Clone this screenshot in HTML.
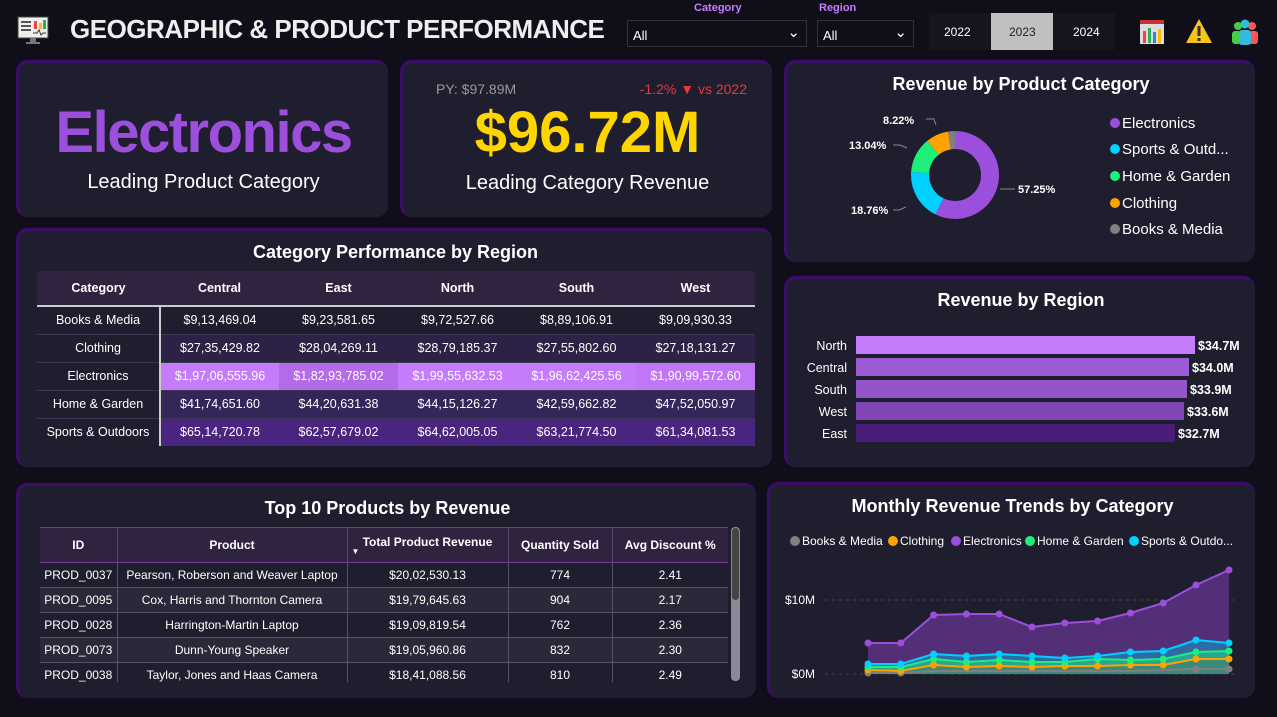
<!DOCTYPE html>
<html><head><meta charset="utf-8"><style>
*{margin:0;padding:0;box-sizing:border-box}
body{width:1277px;height:717px;background:#0f0e19;font-family:"Liberation Sans",sans-serif;color:#fff;position:relative;overflow:hidden}
.a{position:absolute}
.card{position:absolute;background:#1f1e2e;border-radius:12px;border-top:3px solid #3b0f66;border-left:3px solid #3b0f66;box-shadow:0 0 2px #2a0a4a}
.t{position:absolute;left:0;right:0;text-align:center;font-weight:bold;font-size:19px}
table{border-collapse:collapse;position:absolute;font-size:12.5px}
td,th{text-align:center;white-space:nowrap;overflow:hidden}
</style></head><body>
<!-- header -->
<svg class="a" style="left:17px;top:15px" width="32" height="32" viewBox="0 0 32 32"><rect x="1" y="2" width="30" height="21" fill="#eee" stroke="#444"/><rect x="4" y="6" width="10" height="2" fill="#555"/><rect x="4" y="10" width="10" height="2" fill="#555"/><rect x="4" y="14" width="10" height="2" fill="#555"/><rect x="17" y="6" width="3" height="8" fill="#e44"/><rect x="22" y="8" width="3" height="6" fill="#fb0"/><rect x="26" y="5" width="3" height="9" fill="#3a5"/><polyline points="16,18 20,18 22,15 24,20 26,18 29,18" stroke="#333" fill="none"/><rect x="13" y="23" width="6" height="4" fill="#777"/><rect x="9" y="27" width="14" height="2" fill="#777"/></svg>
<div class="a" style="left:70px;top:14px;font-size:26px;font-weight:bold;color:#eee;letter-spacing:-0.5px">GEOGRAPHIC &amp; PRODUCT PERFORMANCE</div>
<div class="a" style="left:694px;top:2px;font-size:11px;font-weight:bold;color:#c77dff">Category</div>
<div class="a" style="left:819px;top:2px;font-size:11px;font-weight:bold;color:#c77dff">Region</div>
<div class="a" style="left:627px;top:20px;width:180px;height:27px;border:1px solid #333;background:#0f0e19;font-size:13px;padding:7px 0 0 5px">All<span class="a" style="right:6px;top:2px;font-size:15px">&#8964;</span></div>
<div class="a" style="left:817px;top:20px;width:97px;height:27px;border:1px solid #333;background:#0f0e19;font-size:13px;padding:7px 0 0 5px">All<span class="a" style="right:6px;top:2px;font-size:15px">&#8964;</span></div>
<div class="a" style="left:929px;top:13px;width:186px;height:37px;background:#16151f"></div>
<div class="a" style="left:991px;top:13px;width:62px;height:37px;background:#c0c0c0"></div>
<div class="a" style="left:944px;top:25px;font-size:12px">2022</div>
<div class="a" style="left:1009px;top:25px;font-size:12px;color:#222">2023</div>
<div class="a" style="left:1073px;top:25px;font-size:12px">2024</div>
<svg class="a" style="left:1139px;top:19px" width="26" height="26"><rect x="1" y="1" width="24" height="24" fill="#ddd"/><rect x="1" y="1" width="24" height="4" fill="#c33"/><rect x="4" y="12" width="3" height="12" fill="#e44"/><rect x="9" y="9" width="3" height="15" fill="#3a5"/><rect x="14" y="13" width="3" height="11" fill="#38c"/><rect x="19" y="10" width="3" height="14" fill="#fb0"/></svg>
<svg class="a" style="left:1185px;top:18px" width="28" height="26"><polygon points="14,1 27,25 1,25" fill="#f5c518"/><rect x="12.5" y="8" width="3" height="10" fill="#333"/><rect x="12.5" y="20" width="3" height="3" fill="#333"/></svg>
<svg class="a" style="left:1230px;top:19px" width="30" height="26"><circle cx="8" cy="7" r="4" fill="#4c4"/><circle cx="22" cy="7" r="4" fill="#f55"/><circle cx="15" cy="5" r="4.5" fill="#3bd"/><rect x="2" y="12" width="9" height="13" rx="3" fill="#4c4"/><rect x="19" y="12" width="9" height="13" rx="3" fill="#f55"/><rect x="9" y="11" width="12" height="15" rx="3" fill="#3bd"/></svg>

<!-- KPI cards -->
<div class="card" style="left:16px;top:60px;width:372px;height:157px">
<div class="t" style="top:36px;font-size:58px;color:#9c4fdc;letter-spacing:-1.5px">Electronics</div>
<div class="t" style="top:108px;font-size:20px;font-weight:normal">Leading Product Category</div></div>
<div class="card" style="left:400px;top:60px;width:372px;height:157px">
<div class="a" style="left:33px;top:18px;font-size:14px;color:#999">PY: $97.89M</div>
<div class="a" style="right:25px;top:18px;font-size:14px;color:#e8383c">-1.2% &#9660; vs 2022</div>
<div class="t" style="top:36px;font-size:58px;color:#ffd500">$96.72M</div>
<div class="t" style="top:109px;font-size:20px;font-weight:normal">Leading Category Revenue</div></div>

<!-- donut card -->
<div class="card" style="left:784px;top:60px;width:471px;height:202px">
<div class="t" style="top:11px;font-size:18px">Revenue by Product Category</div></div>
<svg class="a" style="left:784px;top:60px" width="471" height="202">
<g transform="translate(171,115)" fill="none" stroke-width="18">
<circle r="35" stroke="#9c4fdc" stroke-dasharray="125.9 220" transform="rotate(-90)"/>
<circle r="35" stroke="#00d0ff" stroke-dasharray="0 125.9 41.26 220" transform="rotate(-90)"/>
<circle r="35" stroke="#1df07a" stroke-dasharray="0 167.16 28.68 220" transform="rotate(-90)"/>
<circle r="35" stroke="#ffa200" stroke-dasharray="0 195.84 18.08 220" transform="rotate(-90)"/>
<circle r="35" stroke="#808080" stroke-dasharray="0 213.92 6.0 220" transform="rotate(-90)"/>
</g>
<g stroke="#888" fill="none"><polyline points="216,129 224,129 231,129"/><polyline points="122,147 115,150 109,150"/><polyline points="123,88 116,85 109,85"/><polyline points="152,65 150,59 142,59"/></g>
<g font-size="11" font-weight="bold" fill="#fff"><text x="234" y="133">57.25%</text><text x="67" y="154">18.76%</text><text x="65" y="89">13.04%</text><text x="99" y="64">8.22%</text></g>
<g font-size="15" fill="#fff"><circle cx="331" cy="63" r="5" fill="#9c4fdc"/><text x="338" y="68">Electronics</text>
<circle cx="331" cy="89" r="5" fill="#00d0ff"/><text x="338" y="94">Sports &amp; Outd...</text>
<circle cx="331" cy="116" r="5" fill="#1df07a"/><text x="338" y="121">Home &amp; Garden</text>
<circle cx="331" cy="143" r="5" fill="#ffa200"/><text x="338" y="148">Clothing</text>
<circle cx="331" cy="169" r="5" fill="#808080"/><text x="338" y="174">Books &amp; Media</text></g>
</svg>

<!-- category table -->
<div class="card" style="left:16px;top:228px;width:756px;height:239px">
<div class="t" style="top:11px;font-size:18px">Category Performance by Region</div></div>
<table style="left:37px;top:271px;width:718px">
<colgroup><col style="width:123px"><col style="width:119px"><col style="width:119px"><col style="width:119px"><col style="width:119px"><col style="width:119px"></colgroup>
<tr style="height:35px;background:#2f2340;font-weight:bold;border-bottom:2px solid #ccc"><th>Category</th><th>Central</th><th>East</th><th>North</th><th>South</th><th>West</th></tr>
<tr style="height:28px;background:#1f1e2e;border-bottom:1px solid #3a3850"><td style="border-right:2px solid #ccc">Books &amp; Media</td><td>$9,13,469.04</td><td>$9,23,581.65</td><td>$9,72,527.66</td><td>$8,89,106.91</td><td>$9,09,930.33</td></tr>
<tr style="height:28px;background:#2d2245;border-bottom:1px solid #3a3850"><td style="background:#1f1e2e;border-right:2px solid #ccc">Clothing</td><td>$27,35,429.82</td><td>$28,04,269.11</td><td>$28,79,185.37</td><td>$27,55,802.60</td><td>$27,18,131.27</td></tr>
<tr style="height:28px;background:#c47cfc;border-bottom:1px solid #3a3850"><td style="background:#1f1e2e;border-right:2px solid #ccc">Electronics</td><td>$1,97,06,555.96</td><td style="background:#b36be8">$1,82,93,785.02</td><td>$1,99,55,632.53</td><td>$1,96,62,425.56</td><td style="background:#bf77f6">$1,90,99,572.60</td></tr>
<tr style="height:28px;background:#35265a;border-bottom:1px solid #3a3850"><td style="background:#1f1e2e;border-right:2px solid #ccc">Home &amp; Garden</td><td>$41,74,651.60</td><td>$44,20,631.38</td><td>$44,15,126.27</td><td>$42,59,662.82</td><td>$47,52,050.97</td></tr>
<tr style="height:28px;background:#4a2580"><td style="background:#1f1e2e;border-right:2px solid #ccc">Sports &amp; Outdoors</td><td>$65,14,720.78</td><td>$62,57,679.02</td><td>$64,62,005.05</td><td>$63,21,774.50</td><td>$61,34,081.53</td></tr>
</table>

<!-- region bars -->
<div class="card" style="left:784px;top:276px;width:471px;height:191px">
<div class="t" style="top:11px;font-size:18px">Revenue by Region</div></div>
<svg class="a" style="left:784px;top:276px" width="471" height="191" font-size="12.5">
<g fill="#fff" text-anchor="end"><text x="63" y="74">North</text><text x="63" y="96">Central</text><text x="63" y="118">South</text><text x="63" y="140">West</text><text x="63" y="162">East</text></g>
<rect x="72" y="60" width="339" height="18" fill="#c47cfc"/><rect x="72" y="82" width="333" height="18" fill="#9b5bd4"/><rect x="72" y="104" width="331" height="18" fill="#9355c8"/><rect x="72" y="126" width="328" height="18" fill="#7f47b5"/><rect x="72" y="148" width="319" height="18" fill="#4a1d78"/>
<g fill="#fff" font-weight="bold"><text x="414" y="74">$34.7M</text><text x="408" y="96">$34.0M</text><text x="406" y="118">$33.9M</text><text x="403" y="140">$33.6M</text><text x="394" y="162">$32.7M</text></g>
</svg>

<!-- products table -->
<div class="card" style="left:16px;top:483px;width:740px;height:215px">
<div class="t" style="top:12px;font-size:18px">Top 10 Products by Revenue</div></div>
<div class="a" style="left:40px;top:527px;width:688px;height:155px;overflow:hidden">
<table style="left:0;top:0;width:688px;font-size:12px">
<colgroup><col style="width:77px"><col style="width:230px"><col style="width:161px"><col style="width:104px"><col style="width:116px"></colgroup>
<tr style="height:35px;background:#2f2340;font-weight:bold;border-top:1px solid #7a3a9a;border-bottom:1px solid #7a3a9a"><th style="border-right:1px solid #5a4a6a">ID</th><th style="border-right:1px solid #5a4a6a">Product</th><th style="border-right:1px solid #5a4a6a">Total Product Revenue<div style="font-size:8px;text-align:left;padding-left:4px;line-height:6px">&#9660;</div></th><th style="border-right:1px solid #5a4a6a">Quantity Sold</th><th>Avg Discount %</th></tr>
<tr style="height:25px;background:#1f1e2e;border-bottom:1px solid #55536a"><td style="border-right:1px solid #55536a">PROD_0037</td><td style="border-right:1px solid #55536a">Pearson, Roberson and Weaver Laptop</td><td style="border-right:1px solid #55536a">$20,02,530.13</td><td style="border-right:1px solid #55536a">774</td><td>2.41</td></tr>
<tr style="height:25px;background:#2a2939;border-bottom:1px solid #55536a"><td style="border-right:1px solid #55536a">PROD_0095</td><td style="border-right:1px solid #55536a">Cox, Harris and Thornton Camera</td><td style="border-right:1px solid #55536a">$19,79,645.63</td><td style="border-right:1px solid #55536a">904</td><td>2.17</td></tr>
<tr style="height:25px;background:#1f1e2e;border-bottom:1px solid #55536a"><td style="border-right:1px solid #55536a">PROD_0028</td><td style="border-right:1px solid #55536a">Harrington-Martin Laptop</td><td style="border-right:1px solid #55536a">$19,09,819.54</td><td style="border-right:1px solid #55536a">762</td><td>2.36</td></tr>
<tr style="height:25px;background:#2a2939;border-bottom:1px solid #55536a"><td style="border-right:1px solid #55536a">PROD_0073</td><td style="border-right:1px solid #55536a">Dunn-Young Speaker</td><td style="border-right:1px solid #55536a">$19,05,960.86</td><td style="border-right:1px solid #55536a">832</td><td>2.30</td></tr>
<tr style="height:25px;background:#1f1e2e"><td style="border-right:1px solid #55536a">PROD_0038</td><td style="border-right:1px solid #55536a">Taylor, Jones and Haas Camera</td><td style="border-right:1px solid #55536a">$18,41,088.56</td><td style="border-right:1px solid #55536a">810</td><td>2.49</td></tr>
</table></div>
<div class="a" style="left:731px;top:527px;width:9px;height:154px;border-radius:4px;background:#8a8a96"></div>
<div class="a" style="left:732px;top:528px;width:7px;height:72px;border-radius:4px;background:#444"></div>

<!-- trend chart -->
<div class="card" style="left:767px;top:482px;width:488px;height:216px">
<div class="t" style="top:11px;font-size:18px">Monthly Revenue Trends by Category</div></div>
<svg class="a" style="left:0;top:0" width="1277" height="717">
<g font-size="12" fill="#fff"><circle cx="795" cy="541" r="5" fill="#808080"/><text x="802" y="545">Books &amp; Media</text>
<circle cx="893" cy="541" r="5" fill="#ffa200"/><text x="900" y="545">Clothing</text>
<circle cx="956" cy="541" r="5" fill="#9c4fdc"/><text x="963" y="545">Electronics</text>
<circle cx="1030" cy="541" r="5" fill="#1df07a"/><text x="1037" y="545">Home &amp; Garden</text>
<circle cx="1134" cy="541" r="5" fill="#00d0ff"/><text x="1141" y="545">Sports &amp; Outdo...</text>
<text x="815" y="604" text-anchor="end">$10M</text><text x="815" y="678" text-anchor="end">$0M</text></g>
<g stroke="#444" stroke-dasharray="3 4"><line x1="825" y1="600" x2="1235" y2="600"/><line x1="825" y1="674" x2="1235" y2="674"/></g>
<polygon fill="#532f78" points="868,643 900.8,643 933.6,615 966.4,614 999.2,614 1032,627 1064.8,623 1097.6,621 1130.4,613 1163.2,603 1196,585 1229,570 1229,674 868,674"/>
<polygon fill="#2f6aa5" points="868,664 900.8,664 933.6,654 966.4,656 999.2,654 1032,656 1064.8,658 1097.6,656 1130.4,652 1163.2,651 1196,640 1229,643 1229,674 868,674"/>
<polygon fill="#2aa594" points="868,667 900.8,667 933.6,659 966.4,662 999.2,660 1032,662 1064.8,662 1097.6,659 1130.4,660 1163.2,659 1196,652 1229,651 1229,674 868,674"/>
<polygon fill="#3a8a7a" points="868,670 900.8,671 933.6,665 966.4,667 999.2,666 1032,667 1064.8,666 1097.6,666 1130.4,665 1163.2,665 1196,659 1229,659 1229,674 868,674"/>
<g fill="none" stroke-width="2">
<polyline stroke="#808080" points="868,673 900.8,673 933.6,671 966.4,671 999.2,671 1032,671 1064.8,671 1097.6,671 1130.4,671 1163.2,670 1196,669 1229,669"/>
<polyline stroke="#ffa200" points="868,670 900.8,671 933.6,665 966.4,667 999.2,666 1032,667 1064.8,666 1097.6,666 1130.4,665 1163.2,665 1196,659 1229,659"/>
<polyline stroke="#1df07a" points="868,667 900.8,667 933.6,659 966.4,662 999.2,660 1032,662 1064.8,662 1097.6,659 1130.4,660 1163.2,659 1196,652 1229,651"/>
<polyline stroke="#00d0ff" points="868,664 900.8,664 933.6,654 966.4,656 999.2,654 1032,656 1064.8,658 1097.6,656 1130.4,652 1163.2,651 1196,640 1229,643"/>
<polyline stroke="#9c4fdc" points="868,643 900.8,643 933.6,615 966.4,614 999.2,614 1032,627 1064.8,623 1097.6,621 1130.4,613 1163.2,603 1196,585 1229,570"/>
</g>
<g fill="#808080"><circle cx="868" cy="673" r="3.5"/><circle cx="900.8" cy="673" r="3.5"/><circle cx="1196" cy="669" r="3.5"/><circle cx="1229" cy="669" r="3.5"/></g>
<g fill="#ffa200"><circle cx="868" cy="670" r="3.5"/><circle cx="900.8" cy="671" r="3.5"/><circle cx="933.6" cy="665" r="3.5"/><circle cx="966.4" cy="667" r="3.5"/><circle cx="999.2" cy="666" r="3.5"/><circle cx="1032" cy="667" r="3.5"/><circle cx="1064.8" cy="666" r="3.5"/><circle cx="1097.6" cy="666" r="3.5"/><circle cx="1130.4" cy="665" r="3.5"/><circle cx="1163.2" cy="665" r="3.5"/><circle cx="1196" cy="659" r="3.5"/><circle cx="1229" cy="659" r="3.5"/></g>
<g fill="#1df07a"><circle cx="868" cy="667" r="3.5"/><circle cx="900.8" cy="667" r="3.5"/><circle cx="933.6" cy="659" r="3.5"/><circle cx="966.4" cy="662" r="3.5"/><circle cx="999.2" cy="660" r="3.5"/><circle cx="1032" cy="662" r="3.5"/><circle cx="1064.8" cy="662" r="3.5"/><circle cx="1097.6" cy="659" r="3.5"/><circle cx="1130.4" cy="660" r="3.5"/><circle cx="1163.2" cy="659" r="3.5"/><circle cx="1196" cy="652" r="3.5"/><circle cx="1229" cy="651" r="3.5"/></g>
<g fill="#00d0ff"><circle cx="868" cy="664" r="3.5"/><circle cx="900.8" cy="664" r="3.5"/><circle cx="933.6" cy="654" r="3.5"/><circle cx="966.4" cy="656" r="3.5"/><circle cx="999.2" cy="654" r="3.5"/><circle cx="1032" cy="656" r="3.5"/><circle cx="1064.8" cy="658" r="3.5"/><circle cx="1097.6" cy="656" r="3.5"/><circle cx="1130.4" cy="652" r="3.5"/><circle cx="1163.2" cy="651" r="3.5"/><circle cx="1196" cy="640" r="3.5"/><circle cx="1229" cy="643" r="3.5"/></g>
<g fill="#9c4fdc"><circle cx="868" cy="643" r="3.5"/><circle cx="900.8" cy="643" r="3.5"/><circle cx="933.6" cy="615" r="3.5"/><circle cx="966.4" cy="614" r="3.5"/><circle cx="999.2" cy="614" r="3.5"/><circle cx="1032" cy="627" r="3.5"/><circle cx="1064.8" cy="623" r="3.5"/><circle cx="1097.6" cy="621" r="3.5"/><circle cx="1130.4" cy="613" r="3.5"/><circle cx="1163.2" cy="603" r="3.5"/><circle cx="1196" cy="585" r="3.5"/><circle cx="1229" cy="570" r="3.5"/></g>
</svg>
</body></html>
